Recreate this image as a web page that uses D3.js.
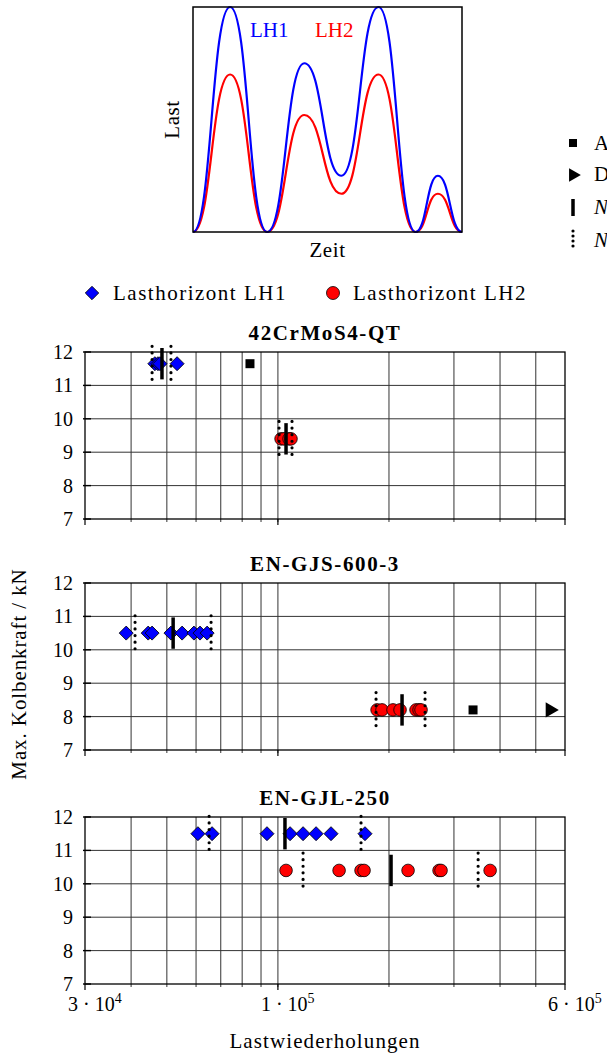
<!DOCTYPE html>
<html>
<head>
<meta charset="utf-8">
<script src="https://cdn.jsdelivr.net/npm/d3@7"></script>
<style>
    body { margin: 0; background: #fff; }
</style>
</head>
<body>
<div id="chart"></div>
<script>
// inset: load sequence of the two load horizons (extrema only)
const insetTime = [0, 1, 2, 3, 4, 5, 6, 6.6, 7.25];
const insetLH1 = [0, 1, 0, 0.75, 0.25, 1, 0, 0.25, 0];
const insetLH2 = [0, 0.7, 0, 0.52, 0.17, 0.7, 0, 0.17, 0];

// test results per material
const materials = ["42CrMoS4-QT", "EN-GJS-600-3", "EN-GJL-250"];
const lh1Force = [11.65, 10.5, 11.5];
const lh2Force = [9.4, 8.2, 10.4];
const lh1Cycles = [
    [46400, 47300, 47900, 53300],
    [38800, 44500, 45600, 51300, 55000, 59200, 61500, 64300],
    [60700, 66300, 93400, 107900, 117000, 126900, 139300, 172200]
];
const lh2Cycles = [
    [102000, 103900, 107200, 108500],
    [185700, 191500, 205100, 214300, 236800, 241300, 244300],
    [105200, 146500, 168000, 171200, 225300, 273400, 276800, 376000]
];
const lh1Median = [48500, 52000, 104500];
const lh2Median = [105200, 217000, 202600];
const lh1Scatter = [[45600, 51300], [41000, 65900], [65100, 168000]];
const lh2Scatter = [[100700, 109200], [184500, 250500], [117000, 348900]];
const outlierPanel = [0, 1];
const outlierCycles = [84000, 338000];
const outlierForce = [11.65, 8.2];
const runoutPanel = [1];
const runoutCycles = [546600];
const runoutForce = [8.2];

const forceTicks = [7, 8, 9, 10, 11, 12];
const cycleLabelValues = [3e4, 1e5, 6e5];
const cycleLabelMantissa = ["3", "1", "6"];
const cycleLabelExp = ["4", "5", "5"];

const FONT = "'Liberation Serif', 'Times New Roman', 'DejaVu Serif', serif";
const width = 607, height = 1055;
const svg = d3.select("#chart").append("svg")
    .attr("width", width)
    .attr("height", height)
    .attr("font-family", FONT);

// ---------- inset ----------
const ix = d3.scaleLinear().domain([0, 7.25]).range([193, 462]);
const iy = d3.scaleLinear().domain([0, 1]).range([232, 7]);
const insetLine = (vals) => d3.line()
    .x((d, i) => ix(insetTime[i]))
    .y((d) => iy(d))
    .curve(d3.curveBumpX)(vals);

svg.append("path").attr("d", insetLine(insetLH2))
    .attr("fill", "none").attr("stroke", "#ff0000").attr("stroke-width", 2.2);
svg.append("path").attr("d", insetLine(insetLH1))
    .attr("fill", "none").attr("stroke", "#0000ff").attr("stroke-width", 2.2);
svg.append("rect")
    .attr("x", ix(0)).attr("y", iy(1))
    .attr("width", ix(7.25) - ix(0)).attr("height", iy(0) - iy(1))
    .attr("fill", "none").attr("stroke", "#000").attr("stroke-width", 1.5);
svg.append("text").attr("x", 250).attr("y", 37)
    .attr("font-size", 21).attr("fill", "#0000ff").text("LH1");
svg.append("text").attr("x", 315).attr("y", 37)
    .attr("font-size", 21).attr("fill", "#ff0000").text("LH2");
svg.append("text")
    .attr("transform", "translate(179," + (iy(0.5)) + ") rotate(-90)")
    .attr("text-anchor", "middle")
    .attr("font-size", 21).attr("letter-spacing", 0.6).text("Last");
svg.append("text").attr("x", (ix(0) + ix(7.25)) / 2).attr("y", 257)
    .attr("text-anchor", "middle")
    .attr("font-size", 21).attr("letter-spacing", 0.6).text("Zeit");

// ---------- right legend (marks) ----------
const sideLegend = svg.append("g").attr("transform", "translate(573,0)");
sideLegend.append("path").attr("d", d3.symbol(d3.symbolSquare, 64)())
    .attr("transform", "translate(0,143)");
sideLegend.append("path").attr("d", d3.symbol(d3.symbolTriangle, 80)())
    .attr("transform", "translate(0,175) rotate(90)");
sideLegend.append("line").attr("x1", 0).attr("x2", 0).attr("y1", 199).attr("y2", 216)
    .attr("stroke", "#000").attr("stroke-width", 3.5);
sideLegend.append("line").attr("x1", 0).attr("x2", 0).attr("y1", 231).attr("y2", 251)
    .attr("stroke", "#000").attr("stroke-width", 3.2)
    .attr("stroke-linecap", "round").attr("stroke-dasharray", "0,5");
const sideText = [["Ausreißer", 150, "normal"], ["Durchläufer", 181, "normal"],
    ["N50%", 214, "italic"], ["N10% / N90%", 247, "italic"]];
sideText.forEach((t) => {
    sideLegend.append("text").attr("x", 21).attr("y", t[1])
        .attr("font-size", 21).attr("font-style", t[2]).text(t[0]);
});

// ---------- legend ----------
const legend = svg.append("g");
legend.append("path").attr("d", d3.symbol(d3.symbolSquare, 90)())
    .attr("transform", "translate(92,293) rotate(45)")
    .attr("fill", "#0000ff").attr("stroke", "#000").attr("stroke-width", 0.8);
legend.append("text").attr("x", 113).attr("y", 300)
    .attr("font-size", 21).attr("letter-spacing", 1.5).text("Lasthorizont LH1");
legend.append("circle").attr("cx", 333).attr("cy", 293).attr("r", 6.5)
    .attr("fill", "#ff0000").attr("stroke", "#000").attr("stroke-width", 0.8);
legend.append("text").attr("x", 353).attr("y", 300)
    .attr("font-size", 21).attr("letter-spacing", 1.5).text("Lasthorizont LH2");

// ---------- panels ----------
const x = d3.scaleLog().domain([3e4, 6e5]).range([85, 565]);
const panelTop = [352, 583, 817];
const panelH = 167;
const gridX = x.ticks().filter((v) => v > 3.01e4 && v < 5.99e5);

materials.forEach((name, p) => {
    const y = d3.scaleLinear().domain([7, 12]).range([panelTop[p] + panelH, panelTop[p]]);
    const g = svg.append("g").attr("class", "panel");
    const bottom = y(7);

    g.selectAll("line.vgrid").data(gridX).enter().append("line")
        .attr("class", "vgrid")
        .attr("x1", (d) => x(d)).attr("x2", (d) => x(d))
        .attr("y1", y(12)).attr("y2", y(7) + 3)
        .attr("stroke", "#333").attr("stroke-width", 1);
    g.selectAll("line.hgrid").data(forceTicks.slice(1, -1)).enter().append("line")
        .attr("class", "hgrid")
        .attr("x1", x(3e4)).attr("x2", x(6e5))
        .attr("y1", (d) => y(d)).attr("y2", (d) => y(d))
        .attr("stroke", "#333").attr("stroke-width", 1);
    // longer ticks under the labelled values
    g.selectAll("line.major").data(cycleLabelValues).enter().append("line")
        .attr("class", "major")
        .attr("x1", (d) => x(d)).attr("x2", (d) => x(d))
        .attr("y1", bottom).attr("y2", bottom + 6)
        .attr("stroke", "#000").attr("stroke-width", 1.2);
    g.selectAll("line.ytick").data(forceTicks).enter().append("line")
        .attr("class", "ytick")
        .attr("x1", x(3e4) - 2).attr("x2", x(3e4) + 6)
        .attr("y1", (d) => y(d)).attr("y2", (d) => y(d))
        .attr("stroke", "#000").attr("stroke-width", 1.4);
    g.append("rect")
        .attr("x", x(3e4)).attr("y", y(12))
        .attr("width", x(6e5) - x(3e4)).attr("height", y(7) - y(12))
        .attr("fill", "none").attr("stroke", "#000").attr("stroke-width", 1.3);

    g.selectAll("text.ylab").data(forceTicks).enter().append("text")
        .attr("class", "ylab")
        .attr("x", 73).attr("y", (d) => y(d)).attr("dy", "0.35em")
        .attr("text-anchor", "end")
        .attr("font-size", 20)
        .text((d) => d);

    g.append("text")
        .attr("x", (x(3e4) + x(6e5)) / 2).attr("y", y(12) - 12)
        .attr("text-anchor", "middle")
        .attr("font-size", 21).attr("font-weight", "bold").attr("letter-spacing", 1.6)
        .text(name);

    // markers
    g.selectAll("path.lh1").data(lh1Cycles[p]).enter().append("path")
        .attr("class", "lh1")
        .attr("d", d3.symbol(d3.symbolSquare, 98)())
        .attr("transform", (d) => "translate(" + x(d) + "," + y(lh1Force[p]) + ") rotate(45)")
        .attr("fill", "#0000ff").attr("stroke", "#000").attr("stroke-width", 0.8);
    g.selectAll("circle.lh2").data(lh2Cycles[p]).enter().append("circle")
        .attr("class", "lh2")
        .attr("cx", (d) => x(d)).attr("cy", y(lh2Force[p])).attr("r", 6.3)
        .attr("fill", "#ff0000").attr("stroke", "#000").attr("stroke-width", 0.8);

    outlierPanel.forEach((op, k) => {
        if (op !== p) return;
        g.append("path").attr("d", d3.symbol(d3.symbolSquare, 81)())
            .attr("transform", "translate(" + x(outlierCycles[k]) + "," + y(outlierForce[k]) + ")");
    });
    runoutPanel.forEach((rp, k) => {
        if (rp !== p) return;
        g.append("path").attr("d", d3.symbol(d3.symbolTriangle, 100)())
            .attr("transform", "translate(" + x(runoutCycles[k]) + "," + y(runoutForce[k]) + ") rotate(90)");
    });

    // median bars and scatter limits
    [[lh1Median[p], lh1Scatter[p], lh1Force[p]], [lh2Median[p], lh2Scatter[p], lh2Force[p]]]
        .forEach(([med, scat, f]) => {
            g.append("line")
                .attr("x1", x(med)).attr("x2", x(med))
                .attr("y1", y(f + 0.47)).attr("y2", y(f - 0.47))
                .attr("stroke", "#000").attr("stroke-width", 3.5);
            g.selectAll(null).data(scat).enter().append("line")
                .attr("x1", (d) => x(d)).attr("x2", (d) => x(d))
                .attr("y1", y(f + 0.52)).attr("y2", y(f - 0.52))
                .attr("stroke", "#000").attr("stroke-width", 3.2)
                .attr("stroke-linecap", "round").attr("stroke-dasharray", "0,6.6");
        });

    if (p === materials.length - 1) {
        cycleLabelValues.forEach((v, k) => {
            const t = g.append("text")
                .attr("x", x(v) - 17).attr("y", bottom + 27)
                .attr("font-size", 20);
            t.append("tspan").text(cycleLabelMantissa[k] + " \u00b7 10");
            t.append("tspan").attr("dy", -8).attr("font-size", 14).text(cycleLabelExp[k]);
        });
    }
});

svg.append("text")
    .attr("x", (x(3e4) + x(6e5)) / 2).attr("y", 1048)
    .attr("text-anchor", "middle")
    .attr("font-size", 21).attr("letter-spacing", 1.1).text("Lastwiederholungen");
svg.append("text")
    .attr("transform", "translate(26,674) rotate(-90)")
    .attr("text-anchor", "middle")
    .attr("font-size", 21).attr("letter-spacing", 0.9).text("Max. Kolbenkraft / kN");
</script>
</body>
</html>
